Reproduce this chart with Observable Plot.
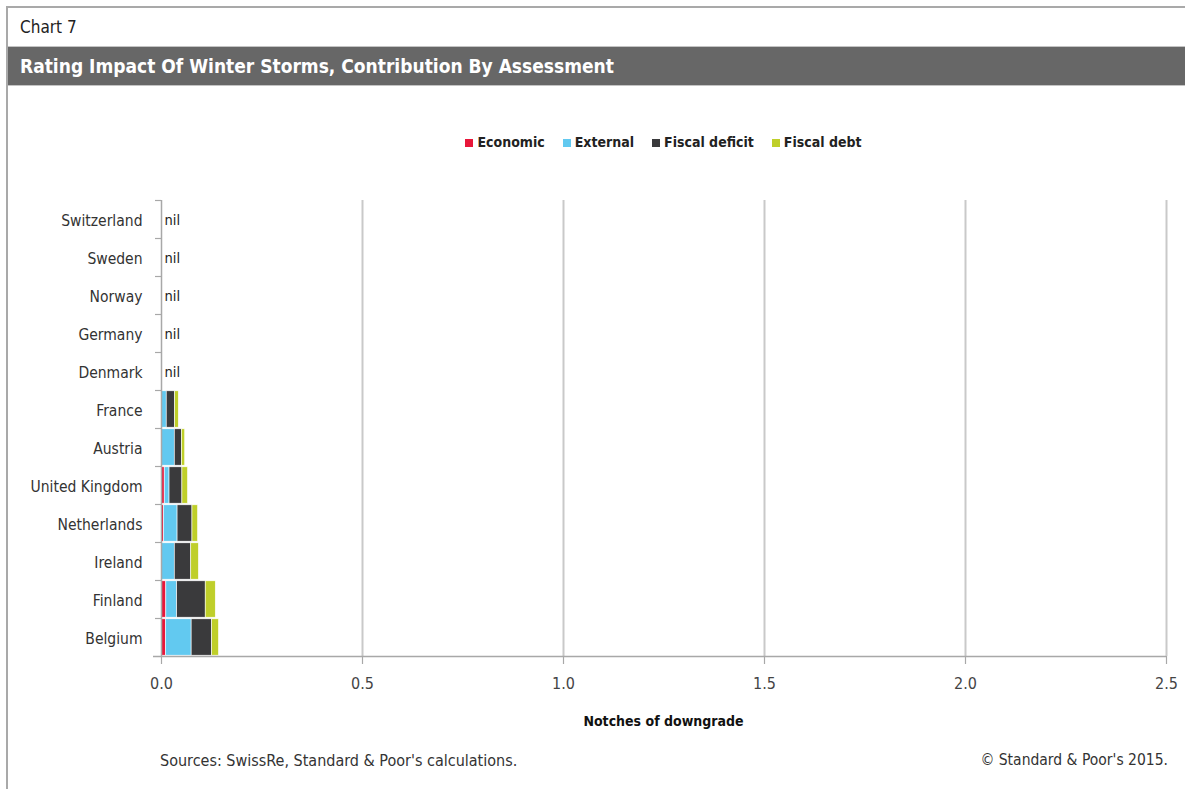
<!DOCTYPE html>
<html>
<head>
<meta charset="utf-8">
<script src="https://cdn.jsdelivr.net/npm/d3@7"></script>
<script src="https://cdn.jsdelivr.net/npm/@observablehq/plot@0.6"></script>
<style>
  html, body { margin: 0; padding: 0; background: #fff; }
  body { width: 1185px; height: 789px; position: relative; overflow: hidden;
         font-family: "DejaVu Sans Condensed", "Liberation Sans Narrow", "Roboto", sans-serif;
         font-stretch: condensed; color: #222; }
  .frame { position: absolute; left: 6px; top: 6px; right: -4px; bottom: -4px;
           border-top: 2px solid #a9a9a9; border-left: 2px solid #a9a9a9; }
  .kicker { position: absolute; left: 20px; top: 17px; font-size: 17px; color: #222; }
  .banner { position: absolute; left: 8px; right: 0; top: 46px; height: 38px;
            background: #676767; border-top: 1px solid #c4c4c4; border-bottom: 1px solid #c4c4c4; }
  .banner span { position: absolute; left: 12px; top: 8px; font-size: 19px; font-weight: bold; color: #fff; }
  .legend { position: absolute; left: 161px; width: 1005px; top: 134px; text-align: center;
            font-size: 14px; font-weight: bold; color: #222; }
  .legend .item { display: inline-block; margin: 0 9px; }
  .legend .sw { display: inline-block; width: 8px; height: 8px; margin-right: 4px; vertical-align: 0px; }
  #chart { position: absolute; left: 0; top: 190px; }
  .xlabel { position: absolute; left: 161px; width: 1005px; top: 713px; text-align: center;
            font-size: 14px; font-weight: bold; color: #111; }
  .source { position: absolute; left: 160px; top: 751px; font-size: 16px; color: #333; }
  .copy { position: absolute; right: 17px; top: 751px; font-size: 15.5px; color: #333; }
</style>
</head>
<body>
<div class="frame"></div>
<div class="kicker">Chart 7</div>
<div class="banner"><span>Rating Impact Of Winter Storms, Contribution By Assessment</span></div>
<div class="legend" id="legend"></div>
<div id="chart"></div>
<div class="xlabel">Notches of downgrade</div>
<div class="source">Sources: SwissRe, Standard &amp; Poor's calculations.</div>
<div class="copy">© Standard &amp; Poor's 2015.</div>
<script>
// Countries, top to bottom
const countries = ["Switzerland", "Sweden", "Norway", "Germany", "Denmark", "France",
  "Austria", "United Kingdom", "Netherlands", "Ireland", "Finland", "Belgium"];

// Notches of downgrade contributed by each assessment
const economic      = [0, 0, 0, 0, 0, 0,     0,     0.008, 0.006, 0,     0.012, 0.011];
const external      = [0, 0, 0, 0, 0, 0.013, 0.033, 0.012, 0.034, 0.033, 0.027, 0.064];
const fiscalDeficit = [0, 0, 0, 0, 0, 0.021, 0.018, 0.032, 0.037, 0.041, 0.071, 0.051];
const fiscalDebt    = [0, 0, 0, 0, 0, 0.009, 0.008, 0.014, 0.014, 0.019, 0.025, 0.017];

const seriesNames  = ["Economic", "External", "Fiscal deficit", "Fiscal debt"];
const seriesValues = [economic, external, fiscalDeficit, fiscalDebt];
const seriesColors = ["#e8173a", "#62c9f0", "#3a3a3c", "#bfcf2a"];

const xTicks = [0, 0.5, 1.0, 1.5, 2.0, 2.5];
const nilLabel = "nil";

// Long table for the stacked bars
const rows = [];
seriesNames.forEach((s, si) => {
  countries.forEach((c, ci) => {
    const v = seriesValues[si][ci];
    if (v > 0) rows.push({country: c, series: s, value: v});
  });
});
const totals = countries.map((c, ci) => ({country: c, total: d3.sum(seriesValues, arr => arr[ci])}));
const nils = totals.filter(d => d.total === 0);

// Legend
const legend = document.getElementById("legend");
seriesNames.forEach((s, i) => {
  const item = document.createElement("span");
  item.className = "item";
  const sw = document.createElement("span");
  sw.className = "sw";
  sw.style.background = seriesColors[i];
  item.appendChild(sw);
  item.appendChild(document.createTextNode(s));
  legend.appendChild(item);
});

const width = 1185, height = 550;
const marginTop = 10, marginBottom = 84, marginLeft = 161, marginRight = 19;
const step = (height - marginTop - marginBottom) / countries.length;
const axisGray = "#a8a8a8";
const font = '"DejaVu Sans Condensed", "Liberation Sans Narrow", sans-serif';

const chart = Plot.plot({
  width, height, marginTop, marginBottom, marginLeft, marginRight,
  style: {fontFamily: font, fontSize: "15px", color: "#333", background: "transparent"},
  x: {domain: [0, 2.5], ticks: xTicks, tickFormat: d3.format(".1f")},
  y: {domain: countries, padding: 0},
  color: {domain: seriesNames, range: seriesColors},
  marks: [
    // vertical gridlines
    Plot.ruleX(xTicks.filter(t => t > 0), {stroke: "#c9c9c9", strokeWidth: 2}),
    // stacked contributions
    Plot.barX(rows, Plot.stackX({
      x: "value", y: "country", fill: "series",
      order: seriesNames,
      insetTop: 0.8, insetBottom: 0.8,
      stroke: "#fff", strokeWidth: 0.6
    })),
    Plot.text(nils, {x: 0, y: "country", text: () => nilLabel, textAnchor: "start", dx: 3, dy: 1,
      fontSize: 14.5, fill: "#222"}),
    // y axis line and band-edge ticks
    Plot.ruleX([0], {stroke: axisGray, strokeWidth: 1.5}),
    Plot.ruleY(countries, {y: d => d, x1: 0, x2: 0, insetLeft: -6, dy: -step / 2,
      stroke: axisGray, strokeWidth: 1.2}),
    // x axis baseline
    Plot.ruleY(countries.slice(-1), {y: d => d, x1: 0, x2: 2.5, insetLeft: -8, dy: step / 2,
      stroke: axisGray, strokeWidth: 1.5}),
    Plot.axisY({tickSize: 0, tickPadding: 19, label: null, fontSize: 15.5, fill: "#333", dy: 1.5}),
    Plot.axisX({ticks: xTicks, tickFormat: d3.format(".1f"), tickSize: 8, tickPadding: 13,
      stroke: axisGray, strokeWidth: 1.2, label: null, fontSize: 16, fill: "#444"})
  ]
});
document.getElementById("chart").appendChild(chart);
</script>
</body>
</html>
